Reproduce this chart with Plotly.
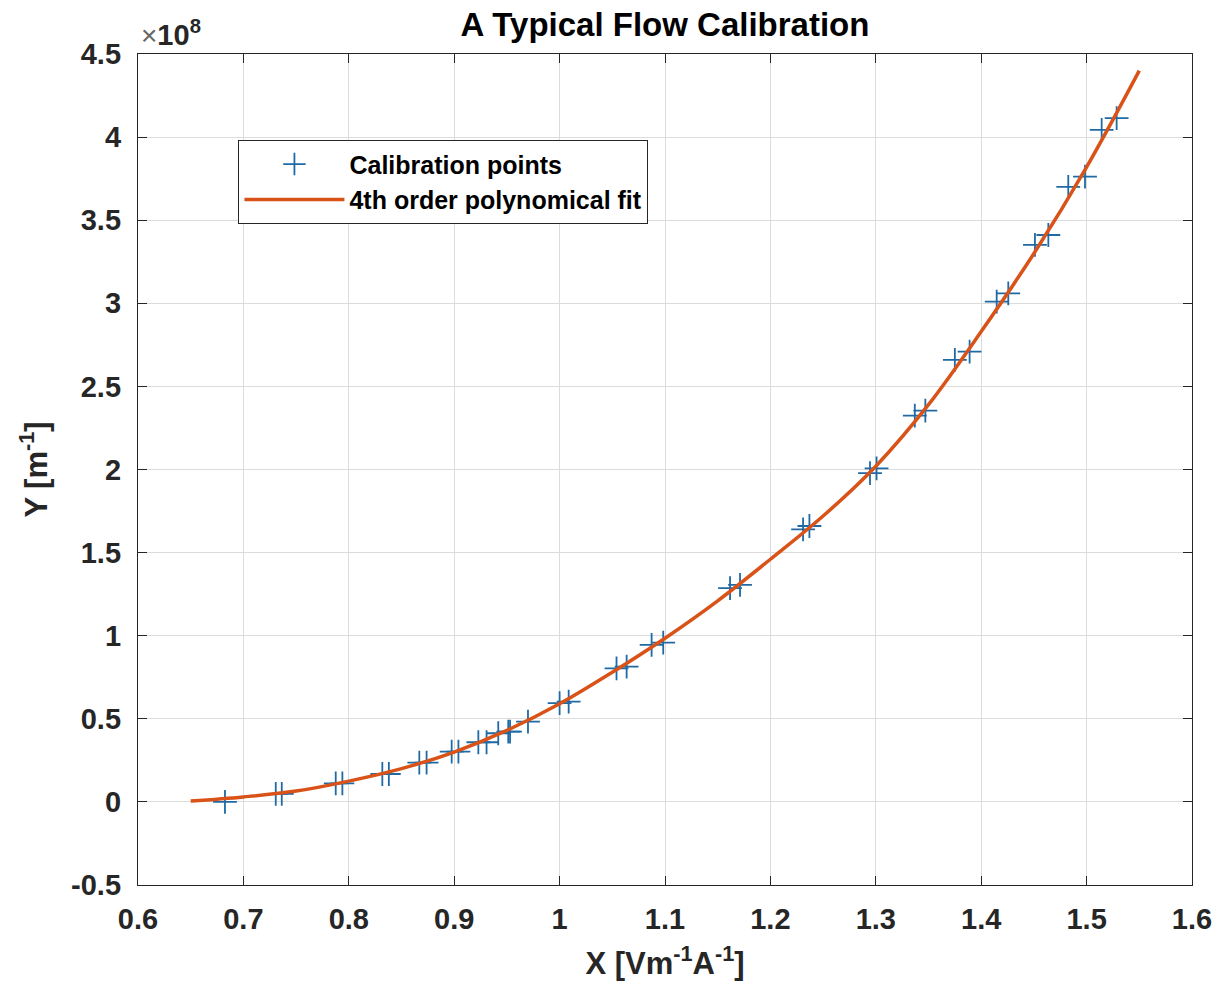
import plotly.graph_objects as go

# calibration points (x in V m^-1 A^-1, y in units of 1e8 m^-1)
cal_x = [0.6825, 0.7307, 0.7364, 0.7876, 0.7939, 0.8318, 0.8380, 0.8669, 0.8738,
         0.8976, 0.9040, 0.9229, 0.9307, 0.9418, 0.9513, 0.9530, 0.9700,
         1.0000, 1.0086, 1.0540, 1.0636, 1.0873, 1.0983, 1.1617, 1.1712,
         1.2310, 1.2370, 1.2945, 1.3007, 1.3370, 1.3470, 1.3750, 1.3890,
         1.4147, 1.4257, 1.4510, 1.4637, 1.4826, 1.4985, 1.5143, 1.5285]
cal_y = [0.000, 0.048, 0.048, 0.112, 0.112, 0.168, 0.168, 0.236, 0.236,
         0.303, 0.303, 0.359, 0.359, 0.413, 0.423, 0.423, 0.483,
         0.594, 0.603, 0.804, 0.814, 0.945, 0.958, 1.286, 1.306,
         1.640, 1.660, 1.978, 2.007, 2.324, 2.354, 2.659, 2.709,
         3.010, 3.060, 3.351, 3.411, 3.700, 3.762, 4.043, 4.114]

# fitted curve
fit_x = [0.65, 0.70, 0.75, 0.80, 0.85, 0.90, 0.95, 1.00, 1.05, 1.10,
         1.15, 1.20, 1.25, 1.30, 1.35, 1.40, 1.45, 1.50, 1.55]
fit_y = [0.005, 0.030, 0.065, 0.125, 0.200, 0.300, 0.430, 0.590, 0.780, 0.985,
         1.210, 1.460, 1.720, 2.020, 2.390, 2.830, 3.300, 3.820, 4.400]

x_ticks = [0.6, 0.7, 0.8, 0.9, 1.0, 1.1, 1.2, 1.3, 1.4, 1.5, 1.6]
x_labels = ["0.6", "0.7", "0.8", "0.9", "1", "1.1", "1.2", "1.3", "1.4", "1.5", "1.6"]
y_ticks = [-0.5, 0, 0.5, 1, 1.5, 2, 2.5, 3, 3.5, 4, 4.5]
y_labels = ["-0.5", "0", "0.5", "1", "1.5", "2", "2.5", "3", "3.5", "4", "4.5"]

font = "Liberation Sans, Arial, sans-serif"
ink = "#262626"

fig = go.Figure()
fig.add_trace(go.Scatter(
    x=cal_x, y=cal_y, mode="markers", name="<b>Calibration points</b>",
    marker=dict(symbol="cross-thin", size=17, line=dict(color="#1f6aa5", width=1.8),
                color="#1f6aa5")))
fig.add_trace(go.Scatter(
    x=fit_x, y=fit_y, mode="lines", name="<b>4th order polynomical fit</b>",
    line=dict(color="#D95319", width=3.5, shape="spline")))

axis_common = dict(
    showline=True, linecolor=ink, linewidth=1.3, mirror="ticks",
    ticks="inside", ticklen=9, tickcolor=ink, tickwidth=1.3,
    showgrid=True, gridcolor="#dcdcdc", gridwidth=1, zeroline=False,
    tickfont=dict(family=font, size=29, color=ink),
)

# page body has an 8px margin, so the figure is sized to fit inside the window
fig.update_layout(
    width=1220, height=982,
    paper_bgcolor="white", plot_bgcolor="white",
    margin=dict(l=130, r=36, t=46, b=105),
    title=dict(text="<b>A Typical Flow Calibration</b>", xref="paper", x=0.5, xanchor="center",
               y=0.995, yanchor="top", pad=dict(t=0, b=0),
               font=dict(family=font, size=33, color="black")),
    xaxis=dict(range=[0.6, 1.6], tickvals=x_ticks, ticktext=["<b>%s</b>" % t for t in x_labels],
               ticklabelstandoff=8,
               title=dict(text="<b>X [Vm<sup>-1</sup>A<sup>-1</sup>]</b>", standoff=18,
                          font=dict(family=font, size=31, color=ink)),
               **axis_common),
    yaxis=dict(range=[-0.5, 4.5], tickvals=y_ticks, ticktext=["<b>%s</b>" % t for t in y_labels],
               ticklabelstandoff=10,
               title=dict(text="<b>Y [m<sup>-1</sup>]</b>", standoff=14,
                          font=dict(family=font, size=31, color=ink)),
               **axis_common),
    legend=dict(x=0.095, y=0.8965, xanchor="left", yanchor="top",
                bordercolor=ink, borderwidth=1.3, bgcolor="white",
                font=dict(family=font, size=25, color="black"),
                itemwidth=100, tracegroupgap=0),
    showlegend=True,
    annotations=[dict(text="<span style='font-size:28px;color:#666'>\u00d7</span><b>10<sup>8</sup></b>",
                      xref="paper", yref="paper",
                      x=0.0, y=1.0, xanchor="left", yanchor="bottom", showarrow=False,
                      xshift=1, yshift=1,
                      font=dict(family=font, size=29, color=ink))],
)

fig.write_html("out.html")
